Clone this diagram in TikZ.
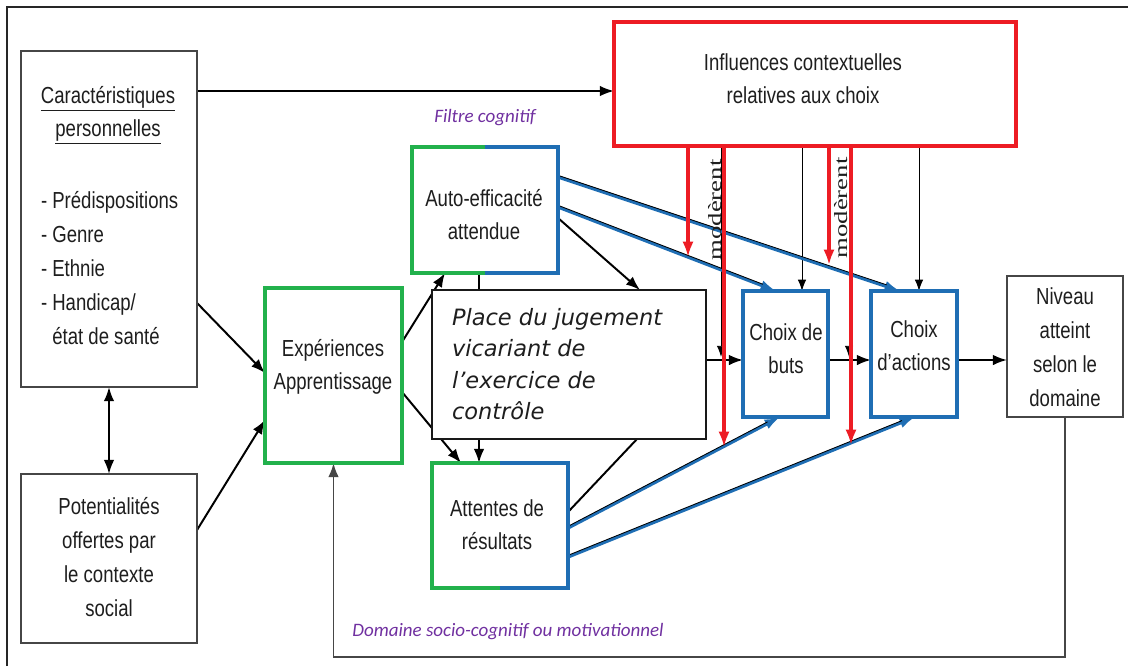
\documentclass[tikz,border=0pt]{standalone}
\usepackage{fontspec}
\usepackage{graphicx}
\setmainfont{Liberation Sans}[FakeStretch=0.8]
\newfontfamily\placefont{DejaVu Sans}[ItalicFont={DejaVu Sans Oblique}]
\newfontfamily\labfont{Carlito}
\newfontfamily\serifont{Liberation Serif}
\usetikzlibrary{arrows.meta,calc}
\pgfdeclarelayer{bg}
\pgfsetlayers{bg,main}
\definecolor{cgreen}{RGB}{34,177,76}
\definecolor{cblue}{RGB}{31,110,180}
\definecolor{cred}{RGB}{237,28,36}
\definecolor{cpurple}{RGB}{112,48,160}
\definecolor{cgray}{RGB}{70,70,70}
\definecolor{ctext}{RGB}{30,30,30}
\begin{document}
\begin{tikzpicture}[x=0.025cm,y=-0.025cm,
  every node/.style={inner sep=0pt, outer sep=0pt},
  gbox/.style={draw=cgray, line width=1.3pt, fill=white},
  greenbox/.style={draw=cgreen, line width=2.3pt, fill=white},
  bluebox/.style={draw=cblue, line width=2.3pt, fill=white},
  redbox/.style={draw=cred, line width=2.3pt, fill=white},
  blackbox/.style={draw=black!90, line width=1.5pt, fill=white},
  plainbox/.style={draw=none, fill=white},
  lbl/.style={font=\fontsize{16.5pt}{23.5pt}\selectfont, text=ctext, align=center},
  arr/.style={draw=black, line width=1.4pt, -{Latex[length=10pt,width=7.5pt]}},
  thinarr/.style={draw=black, line width=0.7pt, -{Latex[length=8pt,width=6pt]}},
  redarr/.style={draw=cred, line width=2.3pt, -{Latex[length=11pt,width=8pt]}},
  bluearr/.style={draw=cblue, line width=2.3pt, -{Latex[length=11pt,width=7.5pt]}},
  bluedge/.style={draw=black, line width=0.6pt, shorten >=10pt, transform canvas={yshift=1.2pt}},
  purp/.style={text=cpurple, font=\labfont\itshape\fontsize{13.5pt}{15pt}\selectfont},
  modtxt/.style={rotate=90, text=ctext, font=\serifont\fontsize{19pt}{20pt}\selectfont},
  feedback/.style={draw=cgray, line width=1.3pt, -{Latex[length=10pt,width=7.5pt]}}
]
\useasboundingbox (0,0) rectangle (1128,666);
\draw[line width=1.5pt, draw=black!85] (7,666) -- (7,7) -- (1128,7);

% boxes
\node[gbox, minimum width=4.4cm, minimum height=8.4cm] (car) at (109,219) {};
\node[gbox, minimum width=4.4cm, minimum height=4.225cm] (pot) at (109,558.5) {};
\node[greenbox, minimum width=3.425cm, minimum height=4.375cm] (exp) at (333.5,375.5) {};
\node[plainbox, minimum width=3.65cm, minimum height=3.15cm] (auto) at (485,210) {};
\node[plainbox, minimum width=3.4cm, minimum height=3.125cm] (att) at (500,525.5) {};
\node[redbox, minimum width=10.05cm, minimum height=3.1cm] (inf) at (815,84) {};
\node[bluebox, minimum width=2.125cm, minimum height=3.15cm] (buts) at (785.5,354) {};
\node[bluebox, minimum width=2.15cm, minimum height=3.15cm] (act) at (914,354) {};
\node[gbox, minimum width=2.9cm, minimum height=3.525cm] (niv) at (1065,346.5) {};
\node[blackbox, minimum width=6.85cm, minimum height=3.725cm] (place) at (569,364.5) {};

% split borders
\draw[cgreen, line width=2.3pt] (auto.north) -- (auto.north west) -- (auto.south west) -- (auto.south);
\draw[cblue, line width=2.3pt] (auto.north) -- (auto.north east) -- (auto.south east) -- (auto.south);
\draw[cgreen, line width=2.3pt] (att.north) -- (att.north west) -- (att.south west) -- (att.south);
\draw[cblue, line width=2.3pt] (att.north) -- (att.north east) -- (att.south east) -- (att.south);

% texts
\node[lbl] (cart) at (108,99) {\underline{Caractéristiques}};
\node[lbl] (pers) at (108,132) {\underline{personnelles}};
\node[lbl, align=left, anchor=west, font=\fontsize{16.5pt}{24.2pt}\selectfont] (list) at (41,268)
  {- Prédispositions\\- Genre\\- Ethnie\\- Handicap/\\\phantom{- }état de santé};
\node[lbl, font=\fontsize{16.5pt}{24.2pt}\selectfont] (pott) at (109,557) {Potentialités\\offertes par\\le contexte\\social};
\node[lbl] (expt) at (333,367) {Expériences\\Apprentissage};
\node[lbl] (autot) at (484,215) {Auto-efficacité\\attendue};
\node[lbl] (attt) at (497,525) {Attentes de\\résultats};
\node[lbl] (inft) at (803,79) {Influences contextuelles\\relatives aux choix};
\node[lbl] (butst) at (786,349) {Choix de\\buts};
\node[lbl] (actt) at (914,345.5) {Choix\\d’actions};
\node[lbl, font=\fontsize{16.5pt}{24.2pt}\selectfont] (nivt) at (1065,347) {Niveau\\atteint\\selon le\\domaine};
\node[anchor=west, align=left, text=ctext, font=\placefont\itshape\fontsize{16pt}{22.4pt}\selectfont] (pt) at (452,364)
  {Place du jugement\\vicariant de\\l’exercice de\\contrôle};
\node[purp] (filtre) at (485,118) {Filtre cognitif};
\node[purp] (domaine) at (508,632) {Domaine socio-cognitif ou motivationnel};
\node[modtxt] (mod1) at (715,210) {\scalebox{1}[0.7]{modèrent}};
\node[modtxt] (mod2) at (841,208) {\scalebox{1}[0.7]{modèrent}};

% moderation targets on blue arrows
\coordinate (r1) at (688,257);
\coordinate (r2) at (724,447);
\coordinate (r3) at (829,265);
\coordinate (r4) at (851,445);
\coordinate (m1) at (721,357);
\coordinate (m2) at (849,357);

\begin{pgfonlayer}{bg}
\draw[arr] (car.east |- 0,91) -- (inf.west |- 0,91);
\draw[arr] (car.east |- 0,303) -- (exp.west |- 0,373);
\draw[arr] (pot.east |- 0,530) -- (exp.west |- 0,420);
\draw[draw=black, line width=1.4pt, {Latex[length=10pt,width=7.5pt]}-{Latex[length=10pt,width=7.5pt]}] (car.south) -- (pot.north);
\draw[arr] (exp.east |- 0,342) -- (auto.south -| 445,0);
\draw[arr] (exp.east |- 0,392) -- (att.north -| 461,0);
\draw[arr] (auto.south -| 479,0) -- (att.north -| 479,0);
\draw[arr] (auto.east |- 0,218) -- (place.north -| 640,0);
\draw[draw=black, line width=1.4pt] (att.east |- 0,512) -- (place.south -| 637,0);
\draw[arr] (place.east |- 0,360) -- (buts.west |- 0,360);
\draw[arr] (buts.east |- 0,360) -- (act.west |- 0,360);
\draw[arr] (act.east |- 0,360) -- (niv.west |- 0,360);
\draw[thinarr] (inf.south -| 802,0) -- (buts.north -| 802,0);
\draw[thinarr] (inf.south -| 919,0) -- (act.north -| 919,0);
\draw[thinarr] (inf.south -| m1) -- (m1);
\draw[thinarr] (inf.south -| m2) -- (m2);
\draw[feedback] (niv.south) -- (niv.south |- 0,657) -- (exp.south |- 0,657) -- (exp.south);
% blue arrows
\draw[bluearr] (auto.east |- 0,177) -- (act.north -| 900,0);
\draw[bluedge] (auto.east |- 0,177) -- (act.north -| 900,0);
\draw[bluearr] (auto.east |- 0,207) -- (buts.north -| 776,0);
\draw[bluedge] (auto.east |- 0,207) -- (buts.north -| 776,0);
\draw[bluearr] (att.east |- 0,528) -- (buts.south -| 780,0);
\draw[bluedge] (att.east |- 0,528) -- (buts.south -| 780,0);
\draw[bluearr] (att.east |- 0,557) -- (act.south -| 915,0);
\draw[bluedge] (att.east |- 0,557) -- (act.south -| 915,0);
% red arrows
\draw[redarr] (inf.south -| r1) -- (r1);
\draw[redarr] (inf.south -| r2) -- (r2);
\draw[redarr] (inf.south -| r3) -- (r3);
\draw[redarr] (inf.south -| r4) -- (r4);
\end{pgfonlayer}
\end{tikzpicture}
\end{document}
